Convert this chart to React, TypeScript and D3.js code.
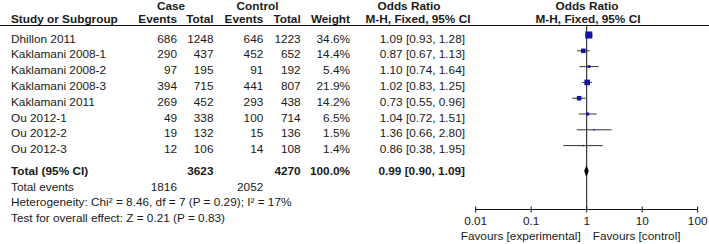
import React from "react";
import * as d3 from "d3";

const studies = ["Dhillon 2011", "Kaklamani 2008-1", "Kaklamani 2008-2", "Kaklamani 2008-3", "Kaklamani 2011", "Ou 2012-1", "Ou 2012-2", "Ou 2012-3"];
const caseEvents = [686, 290, 97, 394, 269, 49, 19, 12];
const caseTotal = [1248, 437, 195, 715, 452, 338, 132, 106];
const ctrlEvents = [646, 452, 91, 441, 293, 100, 15, 14];
const ctrlTotal = [1223, 652, 192, 807, 438, 714, 136, 108];
const weights = [34.6, 14.4, 5.4, 21.9, 14.2, 6.5, 1.5, 1.4];
const orEst = [1.09, 0.87, 1.10, 1.02, 0.73, 1.04, 1.36, 0.86];
const orLow = [0.93, 0.67, 0.74, 0.83, 0.55, 0.72, 0.66, 0.38];
const orHigh = [1.28, 1.13, 1.64, 1.25, 0.96, 1.51, 2.80, 1.95];
const total = { caseTotal: 3623, ctrlTotal: 4270, weight: "100.0%", est: 0.99, low: 0.90, high: 1.09, caseEvents: 1816, ctrlEvents: 2052 };
const axisTicks = [0.01, 0.1, 1, 10, 100];
const heterogeneity = "Heterogeneity: Chi² = 8.46, df = 7 (P = 0.29); I² = 17%";
const overall = "Test for overall effect: Z = 0.21 (P = 0.83)";

export default function App() {
  const W = 709, H = 244;
  const x = d3.scaleLog().domain([0.01, 100]).range([475.7, 697.7]);
  const rowY = d3.scaleLinear().domain([0, 1]).range([42.5, 58.3]);
  const font = "'Liberation Sans', Arial, sans-serif";
  const fs = 11.8;
  const txt = "#1a1a1a";
  const fmt2 = d3.format(".2f");
  const cols = { ce: 177, ct: 213.5, oe: 263.3, ot: 300.7, w: 350, or: 465 };
  const axisY = 209.5;
  const totalY = 175;
  const x1 = x(1);
  return (
    <svg width={W} height={H} style={{ position: "absolute", left: 0, top: 0, background: "#fff" }} fontFamily={font} fontSize={fs} fill={txt}>
      <rect width={W} height={H} fill="#fff" />
      {/* headers */}
      <g fontWeight="bold">
        <text x={171} y={10} textAnchor="middle">Case</text>
        <text x={257.5} y={10} textAnchor="middle">Control</text>
        <text x={409} y={10} textAnchor="middle">Odds Ratio</text>
        <text x={587} y={10} textAnchor="middle">Odds Ratio</text>
        <text x={11} y={22.5}>Study or Subgroup</text>
        <text x={cols.ce} y={22.5} textAnchor="end">Events</text>
        <text x={cols.ct} y={22.5} textAnchor="end">Total</text>
        <text x={cols.oe} y={22.5} textAnchor="end">Events</text>
        <text x={cols.ot} y={22.5} textAnchor="end">Total</text>
        <text x={cols.w} y={22.5} textAnchor="end">Weight</text>
        <text x={418} y={22.5} textAnchor="middle">M-H, Fixed, 95% CI</text>
        <text x={588} y={22.5} textAnchor="middle">M-H, Fixed, 95% CI</text>
      </g>
      <line x1={0} x2={W} y1={25.5} y2={25.5} stroke="#111" strokeWidth={1} />
      {/* vertical line of no effect */}
      <line x1={x1} x2={x1} y1={25.5} y2={axisY} stroke="#111" strokeWidth={1} />
      {/* rows */}
      {studies.map((s, i) => {
        const y = rowY(i);
        const my = y - 7.5;
        const side = 1.2 * Math.sqrt(weights[i]);
        return (
          <g key={s}>
            <text x={11} y={y}>{s}</text>
            <text x={cols.ce} y={y} textAnchor="end">{caseEvents[i]}</text>
            <text x={cols.ct} y={y} textAnchor="end">{caseTotal[i]}</text>
            <text x={cols.oe} y={y} textAnchor="end">{ctrlEvents[i]}</text>
            <text x={cols.ot} y={y} textAnchor="end">{ctrlTotal[i]}</text>
            <text x={cols.w} y={y} textAnchor="end">{weights[i].toFixed(1)}%</text>
            <text x={cols.or} y={y} textAnchor="end">{`${fmt2(orEst[i])} [${fmt2(orLow[i])}, ${fmt2(orHigh[i])}]`}</text>
            <line x1={x(orLow[i])} x2={x(orHigh[i])} y1={my} y2={my} stroke="#333" strokeWidth={1} />
            <rect x={x(orEst[i]) - side / 2} y={my - side / 2} width={side} height={side} fill="#1414a0" />
          </g>
        );
      })}
      {/* total */}
      <g fontWeight="bold">
        <text x={11} y={totalY}>Total (95% CI)</text>
        <text x={cols.ct} y={totalY} textAnchor="end">{total.caseTotal}</text>
        <text x={cols.ot} y={totalY} textAnchor="end">{total.ctrlTotal}</text>
        <text x={cols.w} y={totalY} textAnchor="end">{total.weight}</text>
        <text x={cols.or} y={totalY} textAnchor="end">{`${fmt2(total.est)} [${fmt2(total.low)}, ${fmt2(total.high)}]`}</text>
      </g>
      <polygon
        points={`${x(total.low)},${totalY - 4} ${x(total.est)},${totalY - 10} ${x(total.high)},${totalY - 4} ${x(total.est)},${totalY + 2}`}
        fill="#000"
      />
      <text x={11} y={190.5}>Total events</text>
      <text x={cols.ce} y={190.5} textAnchor="end">{total.caseEvents}</text>
      <text x={cols.oe} y={190.5} textAnchor="end">{total.ctrlEvents}</text>
      <text x={11} y={206}>{heterogeneity}</text>
      <text x={11} y={221.5}>{overall}</text>
      {/* axis */}
      <line x1={x(0.01)} x2={x(100)} y1={axisY} y2={axisY} stroke="#111" strokeWidth={1} />
      {axisTicks.map((t) => (
        <g key={t}>
          <line x1={x(t)} x2={x(t)} y1={axisY - 3} y2={axisY + 3} stroke="#111" strokeWidth={1} />
          <text x={x(t)} y={224.5} textAnchor="middle">{String(t)}</text>
        </g>
      ))}
      <text x={x1 - 6} y={239.5} textAnchor="end">Favours [experimental]</text>
      <text x={x1 + 6} y={239.5} textAnchor="start">Favours [control]</text>
    </svg>
  );
}
